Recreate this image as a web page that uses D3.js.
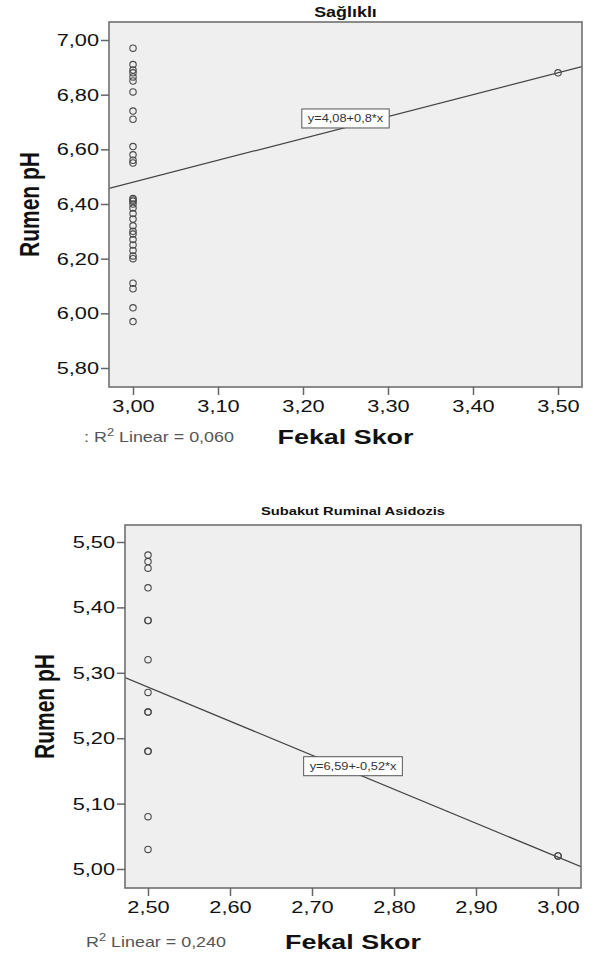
<!DOCTYPE html>
<html>
<head>
<meta charset="utf-8">
<script src="https://cdn.jsdelivr.net/npm/d3@7"></script>
<style>
  html, body { margin: 0; padding: 0; background: #fff; }
  svg { display: block; font-family: "Liberation Sans", Arial, sans-serif; }
</style>
</head>
<body>
<svg id="chart" width="596" height="959"></svg>
<script>
// ---------- DATA ----------
// Chart 1: Sağlıklı
const titles = ["Sağlıklı", "Subakut Ruminal Asidozis"];
const healthyFecal = [3.0,3.0,3.0,3.0,3.0,3.0,3.0,3.0,3.0,3.0,3.0,3.0,3.0,3.0,3.0,3.0,3.0,3.0,3.0,3.0,3.0,3.0,3.0,3.0,3.0,3.0,3.0,3.0,3.0,3.0,3.0,3.0,3.5];
const healthyPh    = [6.97,6.91,6.89,6.88,6.865,6.85,6.81,6.74,6.71,6.61,6.58,6.56,6.55,6.42,6.415,6.41,6.40,6.385,6.365,6.345,6.32,6.30,6.29,6.27,6.25,6.23,6.21,6.20,6.11,6.09,6.02,5.97,6.88];
// Chart 2: Subakut Ruminal Asidozis
const sraFecal = [2.5,2.5,2.5,2.5,2.5,2.5,2.5,2.5,2.5,2.5,2.5,2.5,2.5,2.5,3.0,3.0];
const sraPh    = [5.48,5.47,5.46,5.43,5.38,5.38,5.32,5.27,5.24,5.24,5.18,5.18,5.08,5.03,5.02,5.02];
// Fit lines (as drawn) and their labels
const fitIntercept = [4.08, 6.578];
const fitSlope     = [0.8, -0.52];
const fitLabels    = ["y=4,08+0,8*x", "y=6,59+-0,52*x"];
const r2Labels     = [": R", "R"];
const r2Values     = ["0,060", "0,240"];
// Ticks
const healthyXTicks = [3.0, 3.1, 3.2, 3.3, 3.4, 3.5];
const healthyYTicks = [5.8, 6.0, 6.2, 6.4, 6.6, 6.8, 7.0];
const sraXTicks = [2.5, 2.6, 2.7, 2.8, 2.9, 3.0];
const sraYTicks = [5.0, 5.1, 5.2, 5.3, 5.4, 5.5];
const xTitle = "Fekal Skor";
const yTitle = "Rumen pH";

// ---------- LAYOUT ----------
const SX = 1.28; // horizontal text stretch of original image
const panels = [
  { frame: {l:109, r:582, t:22, b:387},
    xDom: [3.0, 3.5], xRng: [133, 558], yDom: [5.8, 7.0], yRng: [368, 40],
    xs: healthyFecal, ys: healthyPh, xt: healthyXTicks, yt: healthyYTicks,
    titleY: 12, titleSize: 14, yTitleX: 30, axisTitleY: 437, r2X: 84, boxOff: -9 },
  { frame: {l:125, r:581, t:525, b:888},
    xDom: [2.5, 3.0], xRng: [148, 558], yDom: [5.0, 5.5], yRng: [869, 542],
    xs: sraFecal, ys: sraPh, xt: sraXTicks, yt: sraYTicks,
    titleY: 511, titleSize: 11.5, yTitleX: 45, axisTitleY: 942, r2X: 86, boxOff: -6 }
];

const fmt = v => d3.format(".2f")(v).replace(".", ",");
const svg = d3.select("#chart");

panels.forEach((p, i) => {
  const f = p.frame;
  const x = d3.scaleLinear().domain(p.xDom).range(p.xRng);
  const y = d3.scaleLinear().domain(p.yDom).range(p.yRng);
  const g = svg.append("g");
  const clipId = "clip" + i;
  svg.append("clipPath").attr("id", clipId)
    .append("rect").attr("x", f.l).attr("y", f.t).attr("width", f.r - f.l).attr("height", f.b - f.t);

  // plot background
  g.append("rect").attr("x", f.l).attr("y", f.t).attr("width", f.r - f.l).attr("height", f.b - f.t)
    .attr("fill", "#efefef");

  // fit line
  const x0 = x.invert(f.l), x1 = x.invert(f.r);
  const lineFn = xv => fitIntercept[i] + fitSlope[i] * xv;
  g.append("line").attr("clip-path", `url(#${clipId})`)
    .attr("x1", x(x0)).attr("y1", y(lineFn(x0)))
    .attr("x2", x(x1)).attr("y2", y(lineFn(x1)))
    .attr("stroke", "#444").attr("stroke-width", 1.2);

  // points
  g.append("g").selectAll("circle").data(p.xs.map((v, k) => [v, p.ys[k]])).join("circle")
    .attr("cx", d => x(d[0])).attr("cy", d => y(d[1])).attr("r", 3.2)
    .attr("fill", "none").attr("stroke", "#4a4a4a").attr("stroke-width", 1.1);

  // equation box
  const xm = (x0 + x1) / 2;
  const bx = x(xm), by = y(lineFn(xm)) + p.boxOff;
  const bg = g.append("g");
  const bt = bg.append("text").text(fitLabels[i]).attr("font-size", 10).attr("fill", "#333")
    .attr("text-anchor", "middle").attr("dy", "0.35em")
    .attr("transform", `translate(${bx},${by}) scale(${SX},1)`);
  const tw = bt.node().getComputedTextLength() * SX;
  bg.insert("rect", "text").attr("x", bx - tw / 2 - 6).attr("y", by - 9.5)
    .attr("width", tw + 12).attr("height", 19)
    .attr("fill", "#fff").attr("stroke", "#555").attr("stroke-width", 1);

  // frame
  g.append("rect").attr("x", f.l).attr("y", f.t).attr("width", f.r - f.l).attr("height", f.b - f.t)
    .attr("fill", "none").attr("stroke", "#707070").attr("stroke-width", 1.6);

  // axes
  const ya = g.append("g").attr("transform", `translate(${f.l},0)`)
    .call(d3.axisLeft(y).tickValues(p.yt).tickFormat(fmt).tickSize(8).tickPadding(2));
  const xa = g.append("g").attr("transform", `translate(0,${f.b})`)
    .call(d3.axisBottom(x).tickValues(p.xt).tickFormat(fmt).tickSize(8).tickPadding(5));
  [ya, xa].forEach(a => {
    a.select(".domain").remove();
    a.selectAll(".tick line").attr("stroke", "#666").attr("stroke-width", 1.5);
    a.selectAll(".tick text").attr("font-size", 17).attr("fill", "#111")
      .attr("font-family", "'Liberation Sans', Arial, sans-serif");
  });
  ya.selectAll(".tick text").attr("x", 0).attr("transform", `translate(-10,0) scale(${SX},1)`);
  xa.selectAll(".tick text").attr("y", 0).attr("transform", `translate(0,13) scale(${SX},1)`);

  // title
  g.append("text").text(titles[i]).attr("font-weight", "bold").attr("font-size", p.titleSize)
    .attr("text-anchor", "middle").attr("dy", "0.35em").attr("fill", "#111")
    .attr("transform", `translate(${(f.l + f.r) / 2},${p.titleY}) scale(${SX},1)`);

  // y title
  g.append("text").text(yTitle).attr("font-weight", "bold").attr("font-size", 21)
    .attr("text-anchor", "middle").attr("dy", "0.35em").attr("fill", "#111")
    .attr("transform", `translate(${p.yTitleX},${(f.t + f.b) / 2}) rotate(-90) scale(1,${SX})`);

  // x title
  g.append("text").text(xTitle).attr("font-weight", "bold").attr("font-size", 21)
    .attr("text-anchor", "middle").attr("dy", "0.35em").attr("fill", "#111")
    .attr("transform", `translate(${(f.l + f.r) / 2},${p.axisTitleY}) scale(${SX},1)`);

  // R² text
  const rt = g.append("text").attr("font-size", 14).attr("fill", "#555").attr("dy", "0.35em")
    .attr("transform", `translate(${p.r2X},${p.axisTitleY}) scale(${SX},1)`);
  rt.append("tspan").text(r2Labels[i]);
  rt.append("tspan").text("2").attr("font-size", 10).attr("dy", -6);
  rt.append("tspan").text(" Linear = " + r2Values[i]).attr("dy", 6);
});
</script>
</body>
</html>
